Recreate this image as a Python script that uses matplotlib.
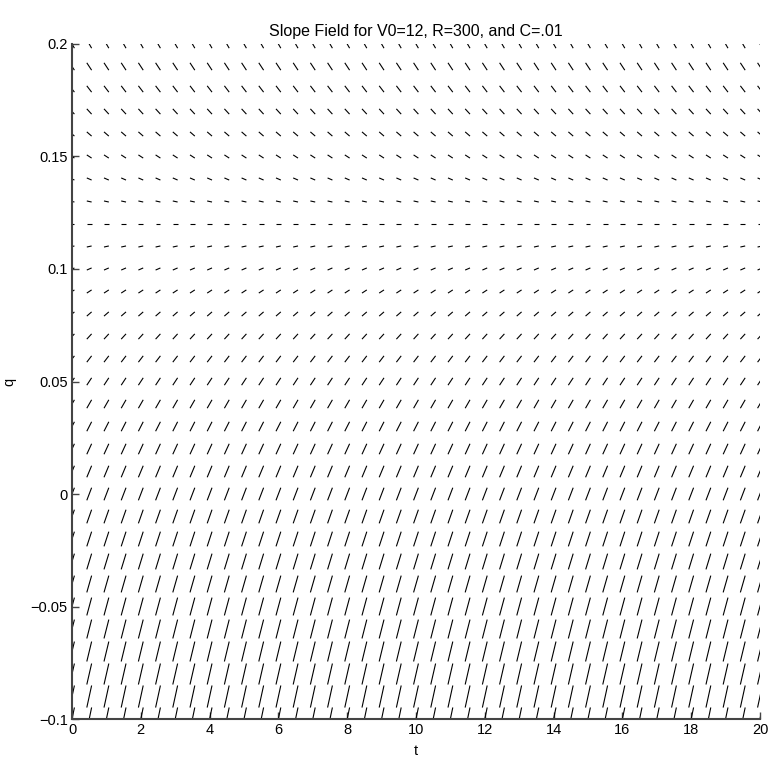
import numpy as np
import matplotlib
matplotlib.use("Agg")
import matplotlib.pyplot as plt
from matplotlib.collections import LineCollection

# Parameters of the ODE  dq/dt = (V0 - q/C) / R
V0 = 12.0
R = 300.0
C = 0.01

# Grid of the slope field
t_values = np.arange(0, 20.0001, 0.5)
q_values = np.round(np.arange(-0.10, 0.20001, 0.01), 4)

x_ticks = [0, 2, 4, 6, 8, 10, 12, 14, 16, 18, 20]
x_tick_labels = ["0", "2", "4", "6", "8", "10", "12", "14", "16", "18", "20"]
y_ticks = [-0.1, -0.05, 0, 0.05, 0.1, 0.15, 0.2]
y_tick_labels = ["\u22120.1", "\u22120.05", "0", "0.05", "0.1", "0.15", "0.2"]

seg_dt = 0.14  # horizontal extent of each segment (data units)

plt.rcParams['font.family'] = ['Liberation Sans', 'DejaVu Sans']

fig = plt.figure(figsize=(7.71, 7.65), dpi=100)
ax = fig.add_axes([0.0934, 0.0601, 0.8923, 0.8824])

T, Q = np.meshgrid(t_values, q_values)
S = (V0 - Q / C) / R
half_t = seg_dt / 2
half_q = S * seg_dt / 2
starts = np.stack([(T - half_t).ravel(), (Q - half_q).ravel()], axis=1)
ends = np.stack([(T + half_t).ravel(), (Q + half_q).ravel()], axis=1)
segments = np.stack([starts, ends], axis=1)

lc = LineCollection(segments, colors='black', linewidths=0.8)
ax.add_collection(lc)

ax.set_xlim(0, 20)
ax.set_ylim(-0.1, 0.2)
ax.set_xticks(x_ticks)
ax.set_xticklabels(x_tick_labels)
ax.set_yticks(y_ticks)
ax.set_yticklabels(y_tick_labels)

for s in ['top', 'right']:
    ax.spines[s].set_visible(False)
for s in ['left', 'bottom']:
    ax.spines[s].set_color('#444444')
    ax.spines[s].set_linewidth(1.5)

ax.tick_params(direction='in', length=5, width=1, colors='#444444',
               labelcolor='black', labelsize=10.5, pad=3)

ax.set_title("Slope Field for V0=12, R=300, and C=.01", fontsize=11.5, pad=6)
ax.set_xlabel("t", fontsize=10.5, labelpad=5)
ax.set_ylabel("q", fontsize=10.5, labelpad=10)

fig.savefig("out.png", dpi=100)
